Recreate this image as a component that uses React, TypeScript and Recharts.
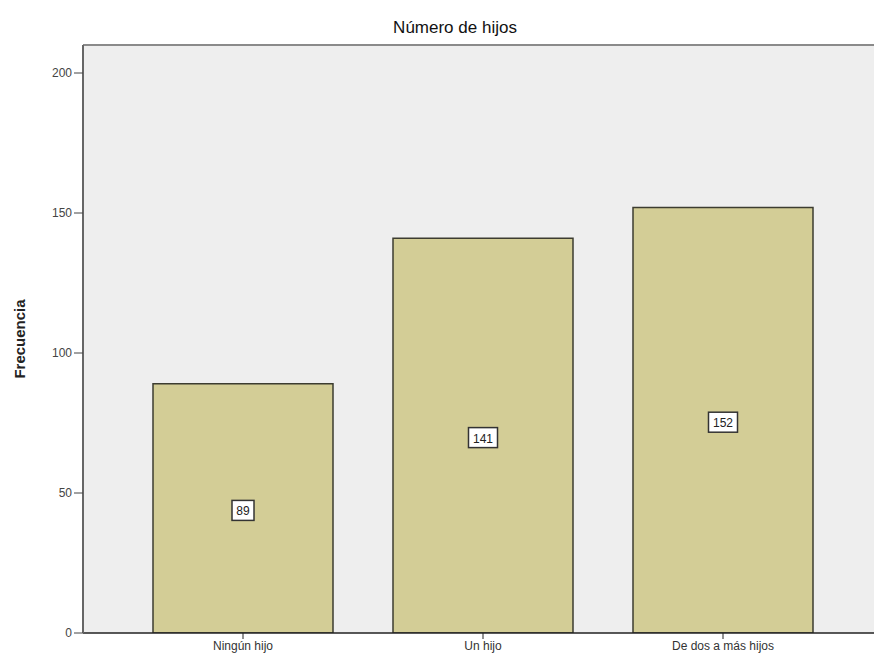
import React from 'react';
import { BarChart, Bar, XAxis, YAxis, CartesianGrid, ReferenceLine, LabelList } from 'recharts';

const categories = ['Ningún hijo', 'Un hijo', 'De dos a más hijos'];
const frequencies = [89, 141, 152];
const yTicks = [0, 50, 100, 150, 200];

const chartData = categories.map((name, i) => ({ name, count: frequencies[i] }));

const FONT = '"Liberation Sans", Arial, sans-serif';

const ValueBox = (props: any) => {
  const { x, y, width, height, value } = props;
  const cx = x + width / 2;
  const cy = y + height / 2;
  const text = String(value);
  const w = text.length * 7 + 8;
  const h = 20;
  return (
    <g>
      <rect x={cx - w / 2} y={cy - h / 2 + 2} width={w} height={h} fill="#ffffff" stroke="#333333" strokeWidth={1.5} />
      <text x={cx} y={cy + 7} textAnchor="middle" fontSize={12} fontFamily={FONT} fill="#222222">
        {text}
      </text>
    </g>
  );
};

const YLabel = (props: any) => {
  const { viewBox } = props;
  const cy = viewBox.y + viewBox.height / 2;
  return (
    <text
      x={25}
      y={cy}
      transform={`rotate(-90, 25, ${cy})`}
      textAnchor="middle"
      fontSize={15}
      fontWeight="bold"
      fontFamily={FONT}
      fill="#222222"
    >
      Frecuencia
    </text>
  );
};

export default function App() {
  return (
    <div style={{ position: 'absolute', left: 0, top: 0, width: 874, height: 662, overflow: 'hidden', background: '#fff' }}>
      <div
        style={{
          position: 'absolute',
          left: 0,
          top: 18,
          width: 910,
          textAlign: 'center',
          fontFamily: FONT,
          fontSize: 17,
          color: '#111',
        }}
      >
        Número de hijos
      </div>
      <BarChart
        width={900}
        height={662}
        data={chartData}
        margin={{ top: 45, right: 17, left: 0, bottom: 0 }}
        barCategoryGap={30}
      >
        <CartesianGrid horizontal={false} vertical={false} fill="#eeeeee" />
        <ReferenceLine y={210} stroke="#8a8a8a" strokeWidth={2} ifOverflow="extendDomain" />
        <XAxis
          dataKey="name"
          height={29}
          padding={{ left: 40, right: 40 }}
          axisLine={{ stroke: '#222', strokeWidth: 1.5 }}
          tickLine={{ stroke: '#222' }}
          tickSize={6}
          tick={{ fontSize: 12, fontFamily: FONT, fill: '#333' }}
          interval={0}
        />
        <YAxis
          width={83}
          domain={[0, 210]}
          ticks={yTicks}
          allowDataOverflow
          axisLine={{ stroke: '#666', strokeWidth: 2 }}
          tickLine={{ stroke: '#444' }}
          tickSize={9}
          tick={{ fontSize: 12, fontFamily: FONT, fill: '#444' }}
          label={<YLabel />}
        />
        <Bar dataKey="count" fill="#d3cd96" stroke="#3c3c30" strokeWidth={1.5} isAnimationActive={false}>
          <LabelList dataKey="count" content={<ValueBox />} />
        </Bar>
      </BarChart>
    </div>
  );
}
